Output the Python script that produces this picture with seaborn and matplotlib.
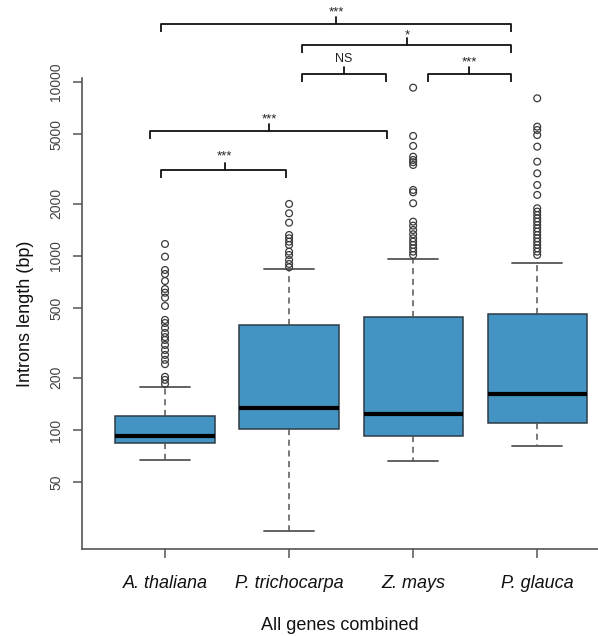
import matplotlib
matplotlib.use("Agg")
import matplotlib.pyplot as plt
import numpy as np
import pandas as pd
import seaborn as sns

# ---- data -------------------------------------------------------------
species = ["A. thaliana", "P. trichocarpa", "Z. mays", "P. glauca"]

# five-number summaries of intron length (bp)
whisker_low = [67.5, 26.4, 66.6, 80.9]
quartile_1 = [83.9, 101.0, 92.7, 110.0]
median_len = [92.7, 133.0, 123.0, 161.7]
quartile_3 = [120.4, 401.0, 444.0, 462.0]
whisker_high = [176.7, 837.0, 966.0, 910.0]

# outlying introns per species
outliers_athaliana = [1172, 991, 831, 788, 718, 646, 615, 576, 516, 429, 412,
                      386, 361, 342, 329, 308, 288, 270, 253, 239, 202, 194, 184]
outliers_ptrichocarpa = [1991, 1759, 1554, 1320, 1264, 1208, 1157, 1059, 1013,
                         948, 900, 861]
outliers_zmays = [9275, 4895, 4290, 3720, 3563, 3460, 3334, 2396, 2322, 2009,
                  1575, 1494, 1410, 1333, 1264, 1208, 1157, 1107, 1059, 1013]
outliers_pglauca = [8057, 5535, 5296, 4954, 4248, 3484, 2985, 2558, 2243, 1880,
                    1799, 1720, 1645, 1575, 1507, 1441, 1380, 1320, 1264, 1208,
                    1157, 1107, 1059, 1013]

y_ticks = [50, 100, 200, 500, 1000, 2000, 5000, 10000]

# pairwise comparisons (index pairs) and their significance labels
comparisons = [(0, 3), (1, 3), (1, 2), (2, 3), (0, 2), (0, 1)]
significance = ["***", "*", "NS", "***", "***", "***"]

# ---- tables -----------------------------------------------------------
summary_rows = []
for i, sp in enumerate(species):
    for v in (whisker_low[i], quartile_1[i], median_len[i], quartile_3[i], whisker_high[i]):
        summary_rows.append({"species": sp, "length": v})
summary_df = pd.DataFrame(summary_rows)

outlier_lists = [outliers_athaliana, outliers_ptrichocarpa, outliers_zmays, outliers_pglauca]
outlier_df = pd.DataFrame(
    [{"species": sp, "length": v} for sp, vals in zip(species, outlier_lists) for v in vals]
)

# ---- style ------------------------------------------------------------
sns.set_style("ticks")
plt.rcParams["font.family"] = ["Liberation Sans", "DejaVu Sans"]

BOX_BLUE = "#4393c3"
AXIS_GRAY = "#555555"

fig = plt.figure(figsize=(5.98, 6.36), dpi=100)
ax = fig.add_axes([82 / 598, 87 / 636, 516 / 598, 471 / 636])

sns.boxplot(
    data=summary_df, x="species", y="length", order=species,
    color=BOX_BLUE, saturation=1, width=0.8, whis=(0, 100), showfliers=False,
    linecolor="#2f3b45", linewidth=1.1,
    medianprops=dict(color="black", linewidth=3.0),
    whiskerprops=dict(color=AXIS_GRAY, linewidth=1.1, linestyle=(0, (4, 3))),
    capprops=dict(color=AXIS_GRAY, linewidth=1.3),
    ax=ax,
)

sns.stripplot(
    data=outlier_df, x="species", y="length", order=species,
    jitter=False, size=4.9, facecolor="none", edgecolor="#3a3a3a",
    linewidth=0.9, ax=ax,
)
for coll in ax.collections:
    coll.set_facecolor("none")

ax.set_yscale("log")
ax.set_ylim(20.7, 10540)
ax.set_xlim(-0.669, 3.49)

ax.yaxis.set_minor_locator(matplotlib.ticker.NullLocator())
ax.set_yticks(y_ticks)
ax.set_yticklabels([str(t) for t in y_ticks], rotation=90, va="center",
                   fontsize=10, color="#444444")
ax.set_xticks(range(len(species)))
ax.set_xticklabels(species, fontsize=13, fontstyle="italic", color="#111111")

ax.tick_params(axis="y", length=6.5, width=1.1, color=AXIS_GRAY, pad=7)
ax.tick_params(axis="x", length=6.5, width=1.1, color=AXIS_GRAY, pad=12)

for side in ("top", "right"):
    ax.spines[side].set_visible(False)
for side in ("left", "bottom"):
    ax.spines[side].set_color(AXIS_GRAY)
    ax.spines[side].set_linewidth(1.2)

ax.set_ylabel("Introns length (bp)", fontsize=13, color="#111111")
ax.yaxis.set_label_coords(-0.093, 0.5)
ax.set_xlabel("All genes combined", fontsize=13, color="#111111")
ax.xaxis.set_label_coords(0.5, -0.145)
ax.xaxis.label.set_va("top")

# ---- significance brackets ------------------------------------------
# (left x, right x, bracket level in bp, centre x, label offset in points)
bracket_geometry = [
    (-0.03, 2.79, 21560, 1.38, 8.0),
    (1.105, 2.79, 16320, 1.95, 6.5),
    (1.105, 1.78, 11110, 1.44, 11.0),
    (2.12, 2.79, 11110, 2.45, 8.0),
    (-0.12, 1.79, 5230, 0.84, 8.5),
    (-0.03, 0.976, 3120, 0.48, 10.0),
]
tip = 10 ** (8 / 174)
nub = 10 ** (7 / 174)
for (x0, x1, yb, xc, off), label in zip(bracket_geometry, significance):
    ax.plot([x0, x0, x1, x1], [yb / tip, yb, yb, yb / tip],
            color="#111111", lw=1.3, clip_on=False, solid_capstyle="butt")
    ax.plot([xc, xc], [yb, yb * nub], color="#111111", lw=1.3, clip_on=False)
    fs = 9 if label == "NS" else 9.5
    ax.annotate(label, (xc, yb), xytext=(0, off), textcoords="offset points",
                ha="center", va="center", fontsize=fs, color="#222222",
                annotation_clip=False)

fig.savefig("out.png", dpi=100)
